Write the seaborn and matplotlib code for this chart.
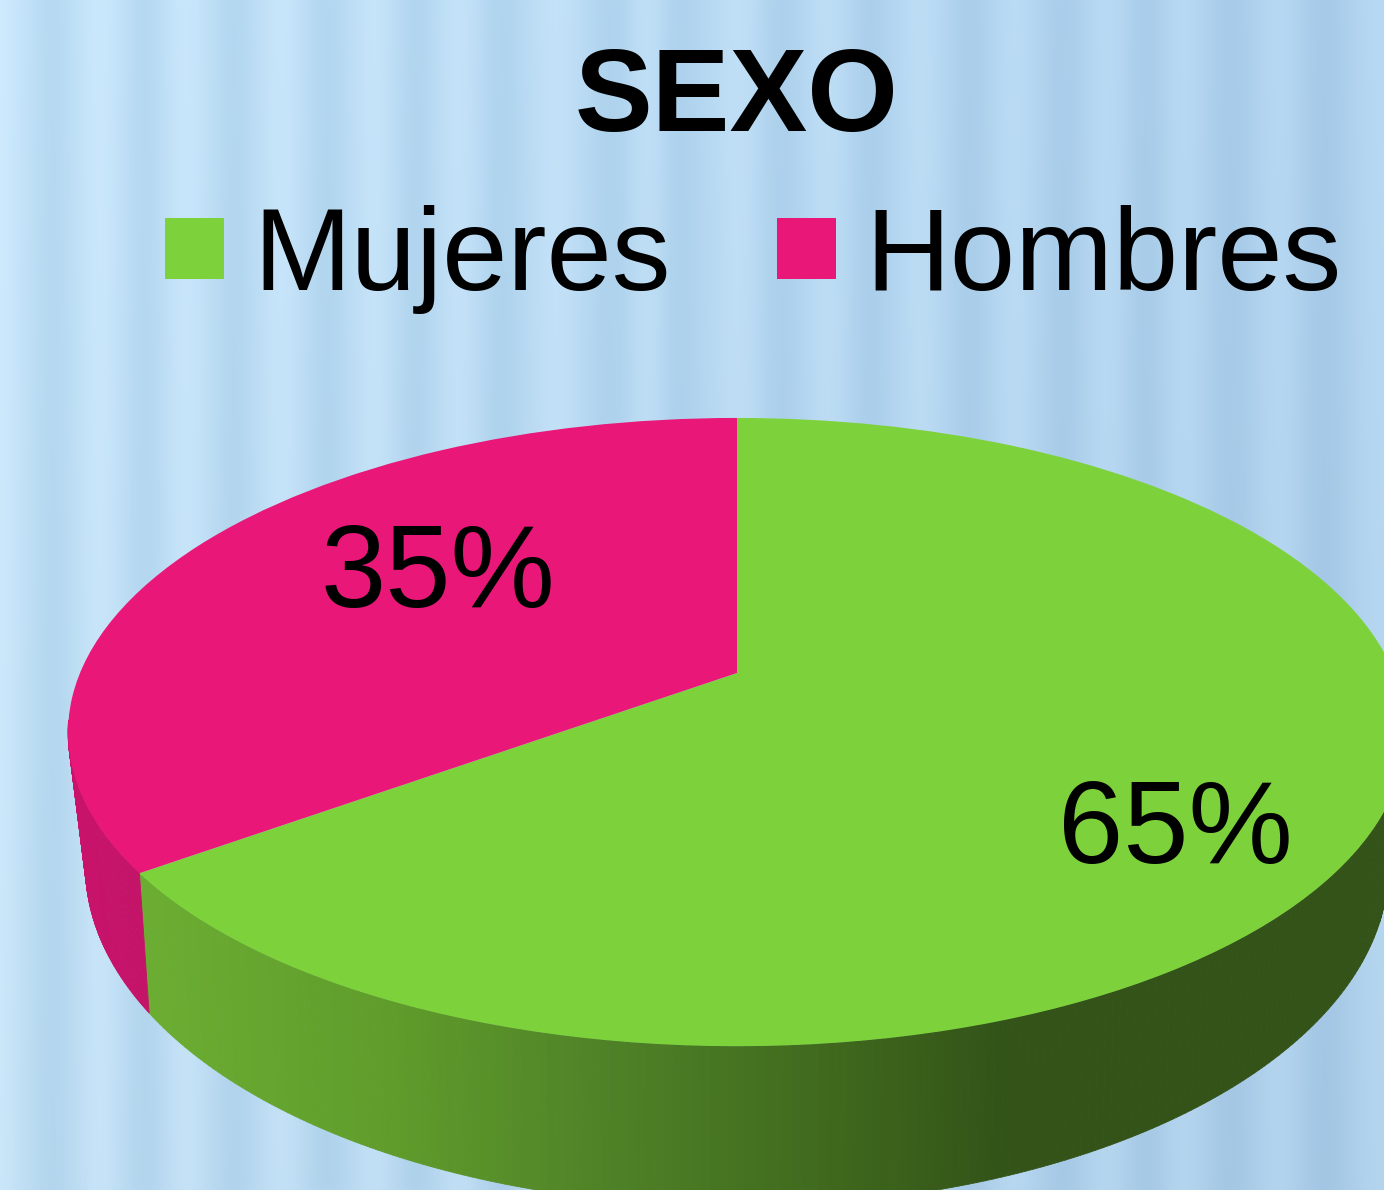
import matplotlib
matplotlib.use('Agg')
import matplotlib.pyplot as plt
from matplotlib.collections import PolyCollection
from matplotlib.colors import LinearSegmentedColormap
from matplotlib.patches import Patch
from matplotlib.transforms import Transform
import numpy as np
import seaborn as sns

categories = ['Mujeres', 'Hombres']
values = [65, 35]
colores = ['#7DD23B', '#E91778']
titulo = 'SEXO'

# franjas del fondo: columnas oscuras y claras
franjas_x = [0, 53, 100, 145, 185, 234, 282, 326, 375, 415, 459, 499, 556, 613, 649, 675,
             740, 780, 829, 868, 921, 970, 1014, 1063, 1107, 1146, 1182, 1230, 1279, 1323, 1372, 1384]
franjas_v = [1, 0, 1, 0, 1, 0, 1, 0, 1, 0, 1, 0, 1, 0, 1, 0,
             1, 0, 1, 0, 1, 0, 1, 0, 1, 0, 1, 0, 1, 0, 1, 1]


class Perspectiva(Transform):
    """Lleva el circulo unidad del pie a la elipse vista en perspectiva."""
    input_dims = 2
    output_dims = 2

    def __init__(self, cx, cy, ax_, by_, k):
        super().__init__()
        self.cx, self.cy, self.ax_, self.by_, self.k = cx, cy, ax_, by_, k

    def transform_non_affine(self, values):
        xy = np.asarray(values, dtype=float)
        d = 1 + self.k * xy[:, 1]
        return np.column_stack([self.cx + self.ax_ * xy[:, 0] / d, self.cy - self.by_ * xy[:, 1] / d])


def pared(ax, wedge, arriba, abajo, cmap):
    """Dibuja el lateral de una porcion como tiras entre los dos bordes."""
    t = np.radians(np.linspace(wedge.theta1, wedge.theta2, 361))
    t = t[np.sin(t) < -0.15]  # solo la parte delantera se ve
    unit = np.column_stack([np.cos(t), np.sin(t)])
    p_top = arriba.transform_non_affine(unit)
    p_bot = abajo.transform_non_affine(unit)
    polys = [[p_top[i], p_top[i + 1], p_bot[i + 1], p_bot[i]] for i in range(len(t) - 1)]
    x_med = (p_top[:-1, 0] + p_bot[:-1, 0]) / 2
    cols = cmap(np.clip(x_med / 1384, 0, 1))
    ax.add_collection(PolyCollection(polys, facecolors=cols, edgecolors=cols, linewidths=0.6, zorder=2))


sns.set_theme(style='white')
plt.rcParams['font.family'] = ['Liberation Sans', 'DejaVu Sans']

fig = plt.figure(figsize=(13.84, 11.90), dpi=100)
ax = fig.add_axes([0, 0, 1, 1])

palette = sns.color_palette(colores)
wedges, _ = ax.pie(values, colors=palette, startangle=90, counterclock=False,
                   wedgeprops={'edgecolor': 'none', 'linewidth': 0})

ax.set_aspect('auto')
ax.set_xlim(0, 1384)
ax.set_ylim(1190, 0)

# fondo azul con franjas verticales
xx = np.arange(1384)
yy = np.arange(1190)
fr = np.interp(xx, franjas_x, franjas_v)
fr = np.convolve(np.pad(fr, 14, mode='edge'), np.ones(29) / 29, mode='valid')
claro = np.outer(1 - xx / 1384, [0xD0, 0xEC, 0xFF]) + np.outer(xx / 1384, [0xB8, 0xD9, 0xF3])
oscuro = np.outer(1 - xx / 1384, [0xB4, 0xD8, 0xF1]) + np.outer(xx / 1384, [0xA2, 0xC7, 0xE6])
base = oscuro + (claro - oscuro) * fr[:, None]
sombra = 1 - 0.02 * (yy / 1190)
fondo = (base[None, :, :] * sombra[:, None, None]) / 255
ax.imshow(np.clip(fondo, 0, 1), extent=[0, 1384, 1190, 0], aspect='auto', zorder=0)
ax.set_xlim(0, 1384)
ax.set_ylim(1190, 0)

# cara superior y base del pie
arriba = Perspectiva(737, 673, 657, 303, 0.188)
abajo = Perspectiva(737, 795, 637, 325, 0.21)

cmap_verde = LinearSegmentedColormap.from_list('verde', [
    (0, '#6CAE32'), (134 / 1384, '#6CAE32'), (400 / 1384, '#5F9B2B'), (600 / 1384, '#4F8227'),
    (850 / 1384, '#3E661C'), (1000 / 1384, '#335318'), (1, '#335318')])
cmap_rosa = LinearSegmentedColormap.from_list('rosa', [
    (0, '#D01470'), (134 / 1384, '#C41368'), (1, '#C41368')])

pared(ax, wedges[0], arriba, abajo, cmap_verde)
pared(ax, wedges[1], arriba, abajo, cmap_rosa)

for w in wedges:
    w.set_transform(arriba + ax.transData)
    w.set_zorder(3)
    w.set_clip_on(True)

ax.text(737, 100, titulo, fontsize=84, fontweight='bold', ha='center', va='center', color='black', zorder=4)
ax.text(438, 577, f'{values[1]}%', fontsize=84.5, ha='center', va='center', color='black', zorder=4)
ax.text(1175, 833, f'{values[0]}%', fontsize=84.5, ha='center', va='center', color='black', zorder=4)

handles = [Patch(facecolor=c, edgecolor='none', label=n) for c, n in zip(palette, categories)]
ax.legend(handles=handles, ncol=2, loc='upper left', bbox_to_anchor=(165, 205), bbox_transform=ax.transData,
          fontsize=84.5, frameon=False, borderpad=0, borderaxespad=0, handlelength=0.505, handleheight=0.425,
          handletextpad=0.25, columnspacing=0.9, labelcolor='black')

plt.savefig('out.png', dpi=100)
